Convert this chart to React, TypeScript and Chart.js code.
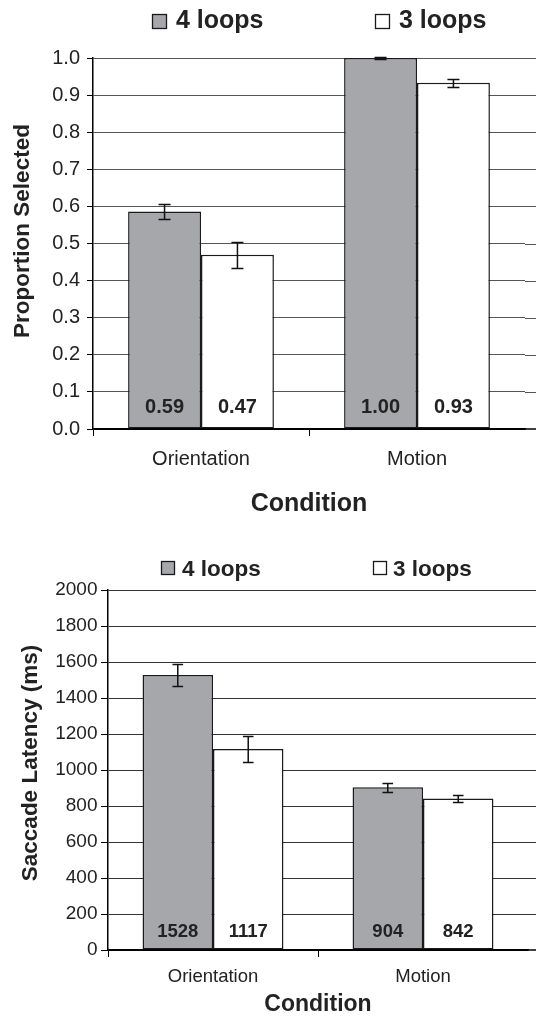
import React, { useEffect, useRef } from 'react';
import { Chart, registerables } from 'chart.js';

Chart.register(...registerables);

// ---------- data ----------
const CATEGORIES = ['Orientation', 'Motion'];
const SERIES = ['4 loops', '3 loops'];

const PROPORTION_4 = [0.586, 1.0];
const PROPORTION_3 = [0.47, 0.933];
const PROPORTION_ERR_4 = [0.02, 0.0015];
const PROPORTION_ERR_3 = [0.035, 0.011];

const LATENCY_4 = [1528, 904];
const LATENCY_3 = [1117, 842];
const LATENCY_ERR_4 = [60, 25];
const LATENCY_ERR_3 = [70, 20];

const X_TITLE = 'Condition';
const Y_TITLE_TOP = 'Proportion Selected';
const Y_TITLE_BOTTOM = 'Saccade Latency (ms)';

// ---------- styles ----------
const FONT = "'Liberation Sans', Arial, Helvetica, sans-serif";
const TEXT = '#222222';
const GRAY = '#a6a7ab';
const EDGE = '#1a1a1a';
const FILLS = [GRAY, '#ffffff'];
const CANVAS_W = 536;

type Cfg = {
  values: number[][];
  errors: number[][];
  yMax: number;
  step: number;
  tickFmt: (v: number) => string;
  labelFmt: (v: number) => string;
  height: number;
  padTop: number;
  padRight: number;
  yWidth: number;
  xHeight: number;
  legend: { boxX: number[]; boxY: number; box: number; textX: number[]; baseline: number; size: number };
  yTitle: { text: string; x: number; y: number; size: number };
  xTitle: { size: number; lineHeight: number; padBottom: number };
  xTick: { size: number; pad: number; tickLen: number };
  yTick: { size: number; pad: number; tickLen: number };
  valueLabel: { size: number; offset: number };
  catPct: number;
  cap: number;
  gridColor: string;
};

const TOP: Cfg = {
  values: [PROPORTION_4, PROPORTION_3],
  errors: [PROPORTION_ERR_4, PROPORTION_ERR_3],
  yMax: 1,
  step: 0.1,
  tickFmt: (v) => v.toFixed(1),
  labelFmt: (v) => v.toFixed(2),
  height: 530,
  padTop: 58,
  padRight: 11,
  yWidth: 93,
  xHeight: 101,
  legend: { boxX: [152, 375], boxY: 14, box: 15, textX: [176, 399], baseline: 28, size: 25 },
  yTitle: { text: Y_TITLE_TOP, x: 28.5, y: 231, size: 22.5 },
  xTitle: { size: 25, lineHeight: 1.2, padBottom: 11 },
  xTick: { size: 20, pad: 11, tickLen: 7 },
  yTick: { size: 20, pad: 7, tickLen: 6 },
  valueLabel: { size: 20, offset: 15.7 },
  catPct: 0.675,
  cap: 6,
  gridColor: '#555555',
};

const BOTTOM: Cfg = {
  values: [LATENCY_4, LATENCY_3],
  errors: [LATENCY_ERR_4, LATENCY_ERR_3],
  yMax: 2000,
  step: 200,
  tickFmt: (v) => String(Math.round(v)),
  labelFmt: (v) => String(Math.round(v)),
  height: 486,
  padTop: 60,
  padRight: 8,
  yWidth: 108,
  xHeight: 66,
  legend: { boxX: [161, 373], boxY: 31, box: 14, textX: [182, 393], baseline: 46.4, size: 22.5 },
  yTitle: { text: Y_TITLE_BOTTOM, x: 36.5, y: 233, size: 22.5 },
  xTitle: { size: 23, lineHeight: 1, padBottom: 0 },
  xTick: { size: 18.5, pad: 9, tickLen: 7 },
  yTick: { size: 19, pad: 3.5, tickLen: 7 },
  valueLabel: { size: 18.5, offset: 13.3 },
  catPct: 0.671,
  cap: 5.3,
  gridColor: '#333333',
};

function makeDecor(cfg: Cfg) {
  return {
    id: 'decor',
    beforeDatasetsDraw(chart: any) {
      // gridlines continue to the right edge of the figure
      const ctx: CanvasRenderingContext2D = chart.ctx;
      const y = chart.scales.y;
      const right = chart.chartArea.right;
      ctx.save();
      y.ticks.forEach((t: any) => {
        const py = Math.round(y.getPixelForValue(t.value));
        ctx.beginPath();
        if (t.value === 0) {
          ctx.strokeStyle = '#000000';
          ctx.lineWidth = 1.5;
          ctx.moveTo(right, py);
        } else {
          ctx.strokeStyle = cfg.gridColor;
          ctx.lineWidth = 1;
          ctx.moveTo(right, py + 0.5);
        }
        ctx.lineTo(CANVAS_W, t.value === 0 ? py : py + 0.5);
        ctx.stroke();
      });
      ctx.restore();
    },
    afterDatasetsDraw(chart: any) {
      const ctx: CanvasRenderingContext2D = chart.ctx;
      const y = chart.scales.y;
      ctx.save();
      // error bars
      ctx.strokeStyle = '#111111';
      ctx.lineWidth = 1.5;
      cfg.values.forEach((series, di) => {
        const meta = chart.getDatasetMeta(di);
        series.forEach((v, i) => {
          const el = meta.data[i];
          const e = cfg.errors[di][i];
          const yt = Math.round(y.getPixelForValue(v + e)) + 0.5;
          const yb = Math.round(y.getPixelForValue(v - e)) + 0.5;
          const x = el.x;
          ctx.beginPath();
          ctx.moveTo(x, yt);
          ctx.lineTo(x, yb);
          ctx.moveTo(x - cfg.cap, yt);
          ctx.lineTo(x + cfg.cap, yt);
          ctx.moveTo(x - cfg.cap, yb);
          ctx.lineTo(x + cfg.cap, yb);
          ctx.stroke();
        });
      });
      // value labels
      ctx.fillStyle = TEXT;
      ctx.font = `bold ${cfg.valueLabel.size}px ${FONT}`;
      ctx.textAlign = 'center';
      ctx.textBaseline = 'alphabetic';
      cfg.values.forEach((series, di) => {
        const meta = chart.getDatasetMeta(di);
        series.forEach((v, i) => {
          const el = meta.data[i];
          ctx.fillText(cfg.labelFmt(v), el.x, chart.chartArea.bottom - cfg.valueLabel.offset);
        });
      });
      ctx.restore();
    },
    afterDraw(chart: any) {
      const ctx: CanvasRenderingContext2D = chart.ctx;
      ctx.save();
      // legend
      const L = cfg.legend;
      SERIES.forEach((name, i) => {
        ctx.fillStyle = FILLS[i];
        ctx.fillRect(L.boxX[i], L.boxY, L.box, L.box);
        ctx.strokeStyle = EDGE;
        ctx.lineWidth = 1.3;
        ctx.strokeRect(L.boxX[i] + 0.5, L.boxY + 0.5, L.box - 1, L.box - 1);
        ctx.fillStyle = TEXT;
        ctx.font = `bold ${L.size}px ${FONT}`;
        ctx.textAlign = 'left';
        ctx.textBaseline = 'alphabetic';
        ctx.fillText(name, L.textX[i], L.baseline);
      });
      // y title
      const T = cfg.yTitle;
      ctx.translate(T.x, T.y);
      ctx.rotate(-Math.PI / 2);
      ctx.fillStyle = TEXT;
      ctx.font = `bold ${T.size}px ${FONT}`;
      ctx.textAlign = 'center';
      ctx.textBaseline = 'alphabetic';
      ctx.fillText(T.text, 0, 0);
      ctx.restore();
    },
  };
}

function BarChart({ cfg }: { cfg: Cfg }) {
  const ref = useRef<HTMLCanvasElement>(null);
  useEffect(() => {
    const chart = new Chart(ref.current as HTMLCanvasElement, {
      type: 'bar',
      data: {
        labels: CATEGORIES,
        datasets: SERIES.map((name, i) => ({
          label: name,
          data: cfg.values[i],
          backgroundColor: FILLS[i],
          borderColor: EDGE,
          borderWidth: 1.5,
          borderSkipped: false,
          barPercentage: 1,
          categoryPercentage: cfg.catPct,
        })),
      },
      options: {
        responsive: false,
        animation: false,
        devicePixelRatio: 1,
        layout: { padding: { top: cfg.padTop, right: cfg.padRight, left: 0, bottom: 0 } },
        plugins: {
          legend: { display: false },
          tooltip: { enabled: false },
          title: { display: false },
        },
        scales: {
          x: {
            offset: true,
            grid: {
              offset: true,
              drawOnChartArea: false,
              drawTicks: true,
              tickLength: cfg.xTick.tickLen,
              color: (c: any) => (c.tick ? '#000000' : 'rgba(0,0,0,0)'),
              tickColor: (c: any) => (c.tick ? '#000000' : 'rgba(0,0,0,0)'),
              lineWidth: 1,
            },
            border: { display: true, color: '#000000', width: 1.5 },
            ticks: {
              color: TEXT,
              padding: cfg.xTick.pad,
              maxRotation: 0,
              font: { family: FONT, size: cfg.xTick.size },
            },
            title: {
              display: true,
              text: X_TITLE,
              color: TEXT,
              font: { family: FONT, size: cfg.xTitle.size, weight: 'bold', lineHeight: cfg.xTitle.lineHeight },
              padding: { top: 0, bottom: cfg.xTitle.padBottom },
            },
            afterFit: (scale: any) => {
              scale.height = cfg.xHeight;
            },
          },
          y: {
            min: 0,
            max: cfg.yMax,
            ticks: {
              stepSize: cfg.step,
              color: TEXT,
              padding: cfg.yTick.pad,
              font: { family: FONT, size: cfg.yTick.size },
              callback: (v: any) => cfg.tickFmt(Number(v)),
            },
            grid: {
              drawTicks: true,
              tickLength: cfg.yTick.tickLen,
              color: (c: any) => (c.tick && c.tick.value === 0 ? '#000000' : cfg.gridColor),
              tickColor: '#000000',
              lineWidth: 1,
            },
            border: { display: true, color: '#000000', width: 1.5 },
            title: { display: false },
            afterFit: (scale: any) => {
              scale.width = cfg.yWidth;
            },
          },
        },
      },
      plugins: [makeDecor(cfg)],
    } as any);
    return () => chart.destroy();
  }, [cfg]);
  return (
    <canvas
      ref={ref}
      width={CANVAS_W}
      height={cfg.height}
      style={{ display: 'block', width: CANVAS_W, height: cfg.height }}
    />
  );
}

export default function App() {
  return (
    <div style={{ position: 'absolute', left: 0, top: 0, width: CANVAS_W, background: '#ffffff' }}>
      <BarChart cfg={TOP} />
      <BarChart cfg={BOTTOM} />
    </div>
  );
}
